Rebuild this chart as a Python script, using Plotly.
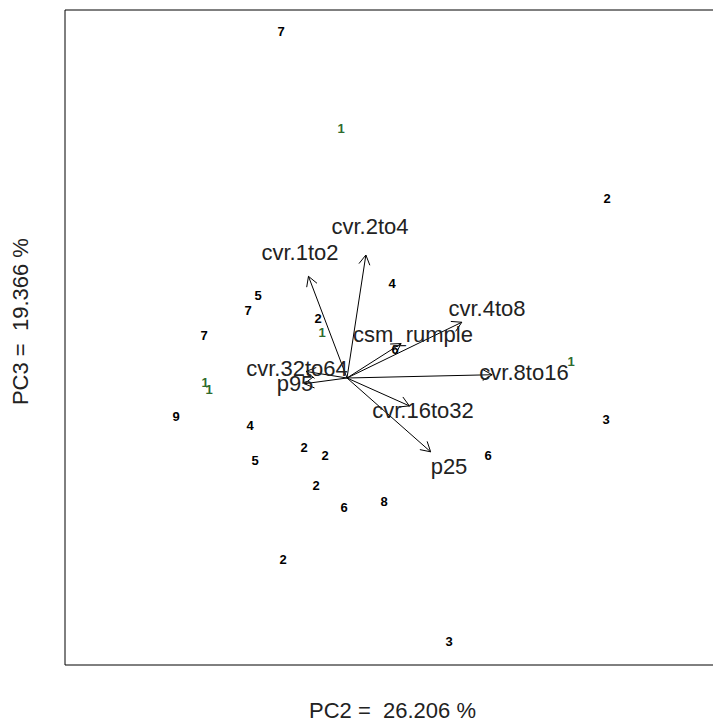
import numpy as np
import plotly.graph_objects as go

# Observation scores (PC2, PC3) and their group labels
point_labels = ["7", "1", "2", "4", "5", "7", "2", "1", "7", "6", "1", "1", "1", "9", "3",
                "4", "2", "2", "6", "5", "2", "8", "6", "2", "3"]
pc2_scores = [-0.66, -0.06, 2.60, 0.45, -0.89, -0.99, -0.29, -0.25, -1.43, 0.48, 2.24, -1.42, -1.38,
              -1.71, 2.59, -0.97, -0.43, -0.22, 1.41, -0.92, -0.31, 0.37, -0.03, -0.64, 1.02]
pc3_scores = [3.45, 2.48, 1.78, 0.93, 0.81, 0.66, 0.58, 0.44, 0.41, 0.27, 0.15, -0.06, -0.13,
              -0.40, -0.43, -0.49, -0.71, -0.79, -0.79, -0.84, -1.09, -1.25, -1.31, -1.83, -2.65]

# Variable loadings (PC2, PC3)
var_names = ["cvr.1to2", "cvr.2to4", "cvr.4to8", "csm_rumple", "cvr.8to16",
             "cvr.16to32", "p25", "cvr.32to64", "p95"]
pc2_load = [-0.47, 0.23, 1.40, 0.66, 1.77, 0.76, 1.02, -0.50, -0.52]
pc3_load = [1.24, 1.50, 0.68, 0.42, 0.04, -0.34, -0.90, 0.08, -0.07]

x_title = "PC2 =\u00a0 26.206 %"
y_title = "PC3 =\u00a0 19.366 %"

FONT = "Arial, Liberation Sans, sans-serif"
ARROW_SCALE = 0.82
HEAD_LEN = 0.11
HEAD_ANG = np.deg2rad(30)

fig = go.Figure()

# Arrows
xs, ys = [], []
for lx, ly in zip(pc2_load, pc3_load):
    ex, ey = lx * ARROW_SCALE, ly * ARROW_SCALE
    xs += [0, ex, None]
    ys += [0, ey, None]
    ang = np.arctan2(ey, ex)
    for s in (1, -1):
        a = ang + np.pi + s * HEAD_ANG
        xs += [ex, ex + HEAD_LEN * np.cos(a), None]
        ys += [ey, ey + HEAD_LEN * np.sin(a), None]
fig.add_trace(go.Scatter(x=xs, y=ys, mode="lines", line=dict(color="black", width=1),
                         hoverinfo="skip", showlegend=False))

# Point labels
colors = ["#2e6b2e" if t == "1" else "black" for t in point_labels]
fig.add_trace(go.Scatter(x=pc2_scores, y=pc3_scores, mode="text", text=point_labels,
                         textposition="middle center",
                         textfont=dict(family=FONT, size=13, color=colors, weight="bold"),
                         showlegend=False))

# Variable labels
fig.add_trace(go.Scatter(x=pc2_load, y=pc3_load, mode="text", text=var_names,
                         textposition="middle center",
                         textfont=dict(family=FONT, size=22, color="#222222"),
                         showlegend=False))

fig.update_layout(
    width=713, height=723,
    margin=dict(l=65, r=0, t=10, b=58),
    paper_bgcolor="white", plot_bgcolor="white",
    xaxis=dict(range=[-2.82, 3.66], visible=False, fixedrange=True),
    yaxis=dict(range=[-2.87, 3.68], visible=False, fixedrange=True),
    shapes=[dict(type="rect", xref="paper", yref="paper", x0=0, x1=1.03, y0=0, y1=1,
                 line=dict(color="black", width=1))],
    annotations=[
        dict(text=x_title, xref="paper", yref="paper", x=0.505, y=-0.070,
             xanchor="center", yanchor="middle", showarrow=False,
             font=dict(family=FONT, size=22, color="#222222")),
        dict(text=y_title, xref="paper", yref="paper", x=-0.069, y=0.524,
             xanchor="center", yanchor="middle", showarrow=False, textangle=-90,
             font=dict(family=FONT, size=22, color="#222222")),
    ],
)

fig.write_html("out.html")
